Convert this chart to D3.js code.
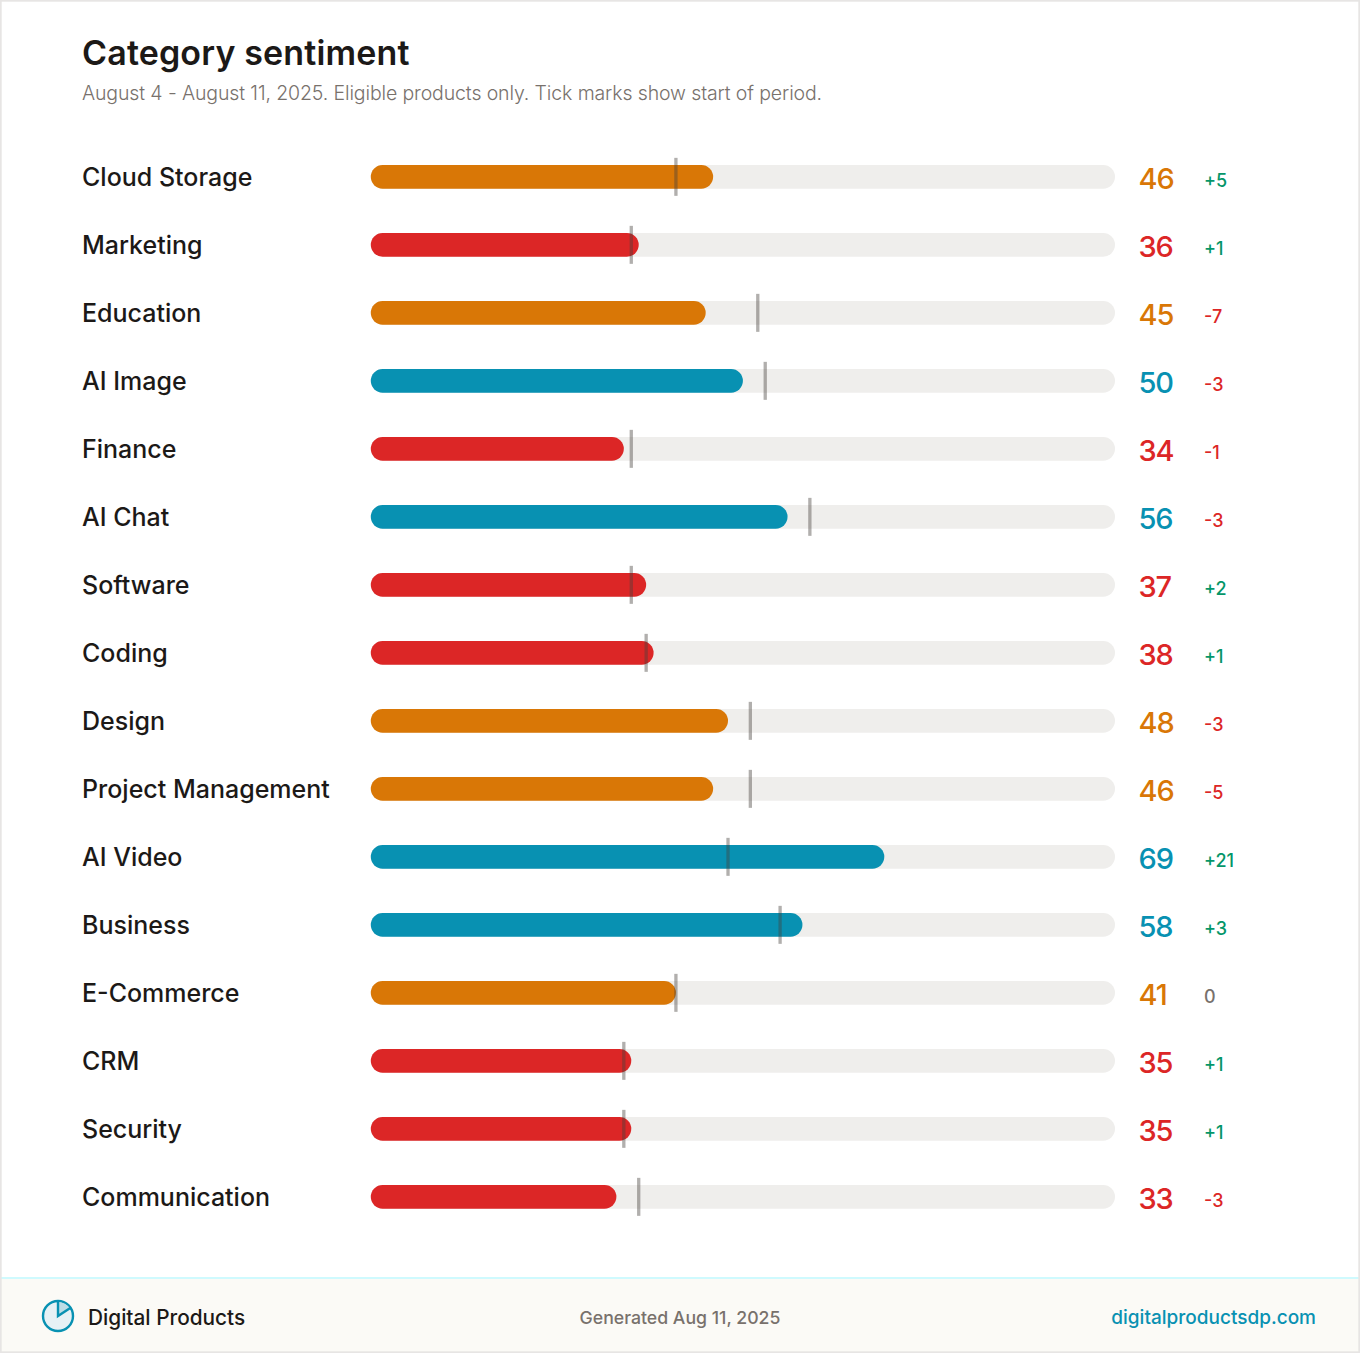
<!DOCTYPE html>
<html>
<head>
<meta charset="utf-8">
<script src="https://cdn.jsdelivr.net/npm/d3@7"></script>
<style>
html,body{margin:0;padding:0;background:#fff}
svg{display:block}
text{font-family:"Inter","Noto Sans",sans-serif}
</style>
</head>
<body>
<svg id="chart" width="1360" height="1353"></svg>
<script>
const categories = ["Cloud Storage","Marketing","Education","AI Image","Finance","AI Chat","Software","Coding","Design","Project Management","AI Video","Business","E-Commerce","CRM","Security","Communication"];
const scores = [46,36,45,50,34,56,37,38,48,46,69,58,41,35,35,33];
const deltas = [5,1,-7,-3,-1,-3,2,1,-3,-5,21,3,0,1,1,-3];

const svg = d3.select("#chart");
const W = 1360, H = 1353;

const x = d3.scaleLinear().domain([0,100]).range([370.8,1115]);
const y = d3.scalePoint().domain(categories).range([176.85,1196.85]);
const band = d3.scaleOrdinal().domain(["low","mid","high"]).range(["#dc2626","#d97706","#0891b2"]);
const tier = v => v >= 50 ? "high" : v >= 40 ? "mid" : "low";
const deltaColor = d => d > 0 ? "#059669" : d < 0 ? "#dc2626" : "#78716c";
const fmtDelta = d => d > 0 ? "+" + d : String(d);

// card and frame
svg.append("rect").attr("width",W).attr("height",H).attr("fill","#fff");
svg.append("rect").attr("x",0).attr("y",1278).attr("width",W).attr("height",H-1278).attr("fill","#fbfaf6");
svg.append("rect").attr("x",0).attr("y",1277).attr("width",W).attr("height",2).attr("fill","#cffafe");
svg.append("rect").attr("x",.85).attr("y",.85).attr("width",W-1.7).attr("height",H-1.7)
  .attr("fill","none").attr("stroke","#e7e5e4").attr("stroke-width",1.7);

// heading
svg.append("text").attr("x",82).attr("y",65).attr("font-size",34).attr("font-weight",600)
  .attr("letter-spacing",.15).attr("fill","#1c1917").text("Category sentiment");
svg.append("text").attr("x",82).attr("y",100).attr("font-size",19.5).attr("font-weight",300)
  .attr("letter-spacing",-.12).attr("fill","#78716c").text("August 4 - August 11, 2025. Eligible products only. Tick marks show start of period.");

// one row per category
const rows = svg.selectAll("g.row").data(categories.map((c,i)=>({c,s:scores[i],d:deltas[i]})))
  .join("g").attr("class","row").attr("transform",r=>`translate(0,${y(r.c)})`);

rows.append("text").attr("x",82).attr("y",9).attr("font-size",25).attr("font-weight",550)
  .attr("fill","#1c1917").text(r=>r.c);
rows.append("rect").attr("x",x(0)).attr("y",-11.85).attr("width",x(100)-x(0)).attr("height",23.7)
  .attr("rx",11.85).attr("fill","#efeeec");
rows.append("rect").attr("x",x(0)).attr("y",-11.85).attr("width",r=>x(r.s)-x(0)).attr("height",23.7)
  .attr("rx",11.85).attr("fill",r=>band(tier(r.s)));
rows.append("rect").attr("x",r=>x(r.s-r.d)-1.65).attr("y",-19).attr("width",3.3).attr("height",38)
  .attr("fill","#44403c").attr("opacity",.42);
rows.append("text").attr("x",1138.5).attr("y",12.4).attr("font-size",29).attr("font-weight",500)
  .attr("letter-spacing",-1.1).attr("fill",r=>band(tier(r.s))).text(r=>r.s);
rows.append("text").attr("x",1204).attr("y",10.5).attr("font-size",18).attr("font-weight",550)
  .attr("fill",r=>deltaColor(r.d)).text(r=>fmtDelta(r.d));

// footer brand mark
const mark = svg.append("g").attr("transform","translate(58,1316)");
mark.append("circle").attr("r",15).attr("fill","#e6f1f5").attr("stroke","#0891b2").attr("stroke-width",2.4);
mark.append("path").attr("d",d3.arc()({innerRadius:0,outerRadius:14,startAngle:0,endAngle:Math.PI/3.1})).attr("fill","#bcdde6");
mark.append("path").attr("d","M0,-15V0L13,-8.5").attr("fill","none").attr("stroke","#0891b2").attr("stroke-width",2.4);

svg.append("text").attr("x",88).attr("y",1325).attr("font-size",20.8).attr("font-weight",550)
  .attr("fill","#1c1917").text("Digital Products");
svg.append("text").attr("x",680).attr("y",1324).attr("text-anchor","middle").attr("font-size",17.7).attr("font-weight",450)
  .attr("fill","#78716c").text("Generated Aug 11, 2025");
svg.append("text").attr("x",1316).attr("y",1324).attr("text-anchor","end").attr("font-size",19).attr("font-weight",550)
  .attr("fill","#0891b2").text("digitalproductsdp.com");
</script>
</body>
</html>
